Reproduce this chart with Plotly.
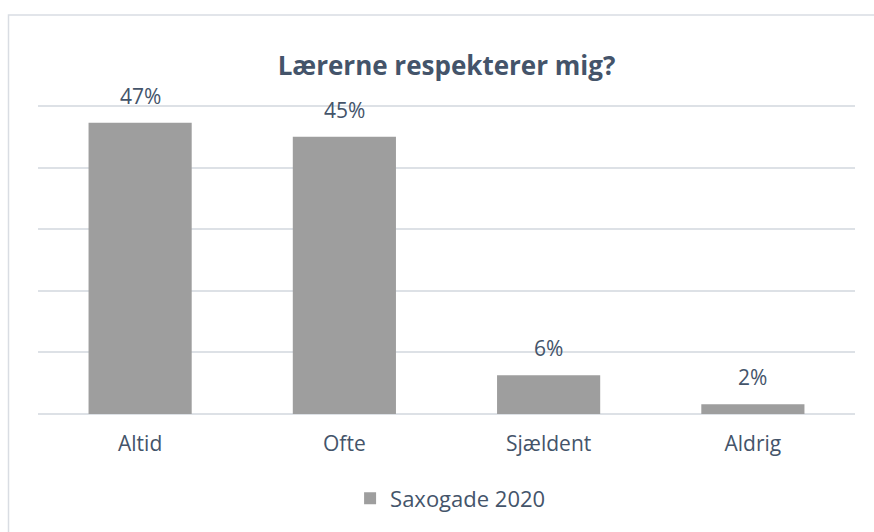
import plotly.graph_objects as go

categories = ["Altid", "Ofte", "Sjældent", "Aldrig"]
values = [47.3, 45.0, 6.3, 1.6]
labels = ["47%", "45%", "6%", "2%"]
series_name = "Saxogade 2020"
title_text = "Lærerne respekterer mig?"

W, H = 874, 532
YMAX = 50.5
ml, mr, mb = 38, 19, 116
px_per_unit = 61.9 / 10
mt = round(106 - (YMAX - 50) * px_per_unit)
TXT = "#44546a"
FONT = "Open Sans"

fig = go.Figure()
fig.add_trace(go.Bar(
    x=categories, y=values, name=series_name,
    marker=dict(color="#9e9e9e", line=dict(width=0)),
    width=0.505, showlegend=True,
))

for c, v, t in zip(categories, values, labels):
    fig.add_annotation(x=c, y=v, text=t, showarrow=False, xref="x", yref="y",
                       yanchor="bottom", yshift=11,
                       font=dict(family=FONT, size=21, color=TXT))

pw = W - ml - mr
ph = H - mt - mb
fig.add_shape(type="rect", xref="paper", yref="paper",
              x0=(8.5 - ml) / pw, x1=(W + 10 - ml) / pw,
              y0=(H - mb - (H + 10)) / ph, y1=(H - mb - 14.5) / ph,
              line=dict(color="#d9dde3", width=1.5), fillcolor="rgba(0,0,0,0)", layer="below")

fig.update_layout(
    width=W, height=H,
    margin=dict(l=ml, r=mr, t=mt, b=mb),
    paper_bgcolor="white", plot_bgcolor="white",
    title=dict(text="<b>" + title_text + "</b>", x=0.5, xanchor="center",
               xref="paper", y=1 - 66 / H, yref="container", yanchor="middle",
               font=dict(family=FONT, size=26, color=TXT)),
    xaxis=dict(showgrid=False, showline=False, zeroline=False, ticks="",
               tickfont=dict(family=FONT, size=21, color=TXT), ticklabelstandoff=15),
    yaxis=dict(range=[0, YMAX], dtick=10, showticklabels=False, gridcolor="#dde1e6",
               gridwidth=1.5, zeroline=True, zerolinecolor="#dde1e6", zerolinewidth=1.5,
               showline=False, ticks=""),
    legend=dict(orientation="h", x=0.505, xanchor="center", y=(H - mb - 501) / ph,
                yanchor="middle", yref="paper",
                font=dict(family=FONT, size=22, color=TXT), itemwidth=30),
    bargap=0.495,
)

fig.write_html("out.html", config={"displayModeBar": False},
               post_script="document.body.style.margin='0px';")
